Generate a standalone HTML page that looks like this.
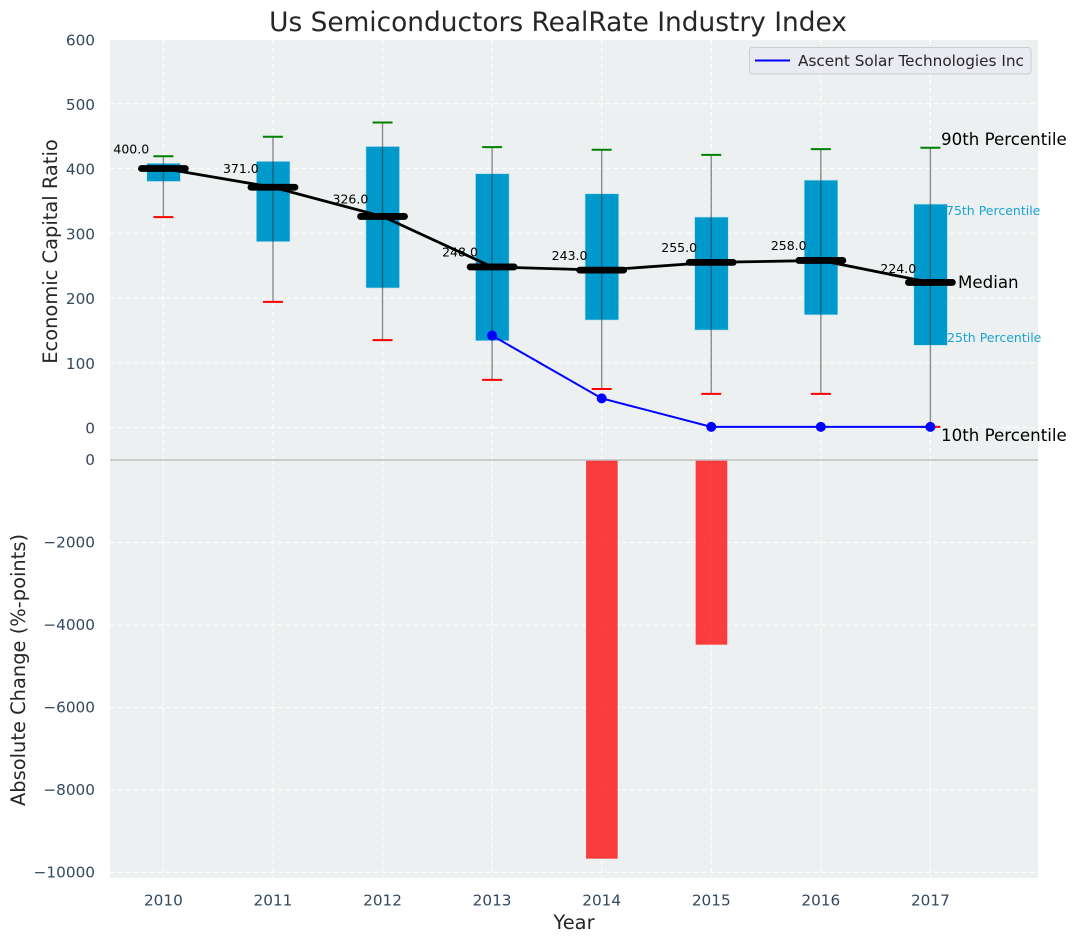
<!DOCTYPE html>
<html>
<head>
<meta charset="utf-8">
<title>Us Semiconductors RealRate Industry Index</title>
<style>
html,body{margin:0;padding:0;background:#fff;}
svg{display:block;font-family:"DejaVu Sans","Liberation Sans",sans-serif;}
</style>
</head>
<body>
<svg id="chart" width="1076" height="942" viewBox="0 0 1076 942" xmlns="http://www.w3.org/2000/svg">
  <rect x="110" y="40" width="928" height="419" fill="#ecf0f1"/>
  <rect x="110" y="460" width="928" height="418" fill="#ecf0f1"/>
  <g id="grid"></g>
  <g id="marks"></g>
  <line x1="110" x2="1038" y1="460" y2="460" stroke="#bdbdbd" stroke-width="1.5"/>
  <g id="ticks"></g>
  <text x="558" y="31" font-size="26.4" fill="#262626" text-anchor="middle">Us Semiconductors RealRate Industry Index</text>
  <text x="574" y="929" font-size="19.44" fill="#262626" text-anchor="middle">Year</text>
  <text transform="translate(57,251.5) rotate(-90)" font-size="19.44" fill="#262626" text-anchor="middle">Economic Capital Ratio</text>
  <text transform="translate(25,670) rotate(-90)" font-size="19.44" fill="#262626" text-anchor="middle">Absolute Change (%-points)</text>
  <text x="941" y="145" font-size="16.67" fill="#000">90th Percentile</text>
  <text x="958" y="288" font-size="16.67" fill="#000">Median</text>
  <text x="941" y="441" font-size="16.67" fill="#000">10th Percentile</text>
  <text x="946" y="215" font-size="12.5" fill="#1ba3d3">75th Percentile</text>
  <text x="947" y="342" font-size="12.5" fill="#1ba3d3">25th Percentile</text>
  <g>
    <rect x="749.5" y="47.5" width="281.5" height="26.5" rx="3" fill="#eaeaf2" fill-opacity="0.9" stroke="#cccccc"/>
    <line x1="755" x2="790" y1="60.5" y2="60.5" stroke="#0000ff" stroke-width="2"/>
    <text x="798" y="66" font-size="15.28" fill="#262626">Ascent Solar Technologies Inc</text>
  </g>
</svg>
<script>
const years = [2010, 2011, 2012, 2013, 2014, 2015, 2016, 2017];
const p90 = [419, 449, 471, 433, 429, 421, 430, 432];
const p75 = [408, 411, 434, 392, 361, 325, 382, 345];
const medians = [400, 371, 326, 248, 243, 255, 258, 224];
const p25 = [380, 287, 215.5, 134, 166, 150.5, 174, 127];
const p10 = [325, 194, 135, 73.5, 59.5, 52, 52, 1];
const companyYears = [2013, 2014, 2015, 2016, 2017];
const companyValues = [142, 45, 1, 1, 1];
const changeYears = [2014, 2015];
const changeValues = [-9665, -4477];
const topTicks = [0, 100, 200, 300, 400, 500, 600];
const bottomTicks = [0, -2000, -4000, -6000, -8000, -10000];

const NS = 'http://www.w3.org/2000/svg';
const xPos = v => 163.4 + (v - 2010) * 109.57;
const yTop = v => 427.5 - v * 0.6475;
const yBottom = v => 460 + (-v) * 0.04125;

function make(parent, tag, attrs, text) {
  const el = document.createElementNS(NS, tag);
  for (const k in attrs) el.setAttribute(k, attrs[k]);
  if (text !== undefined) el.textContent = text;
  parent.appendChild(el);
  return el;
}
const grid = document.getElementById('grid');
const marks = document.getElementById('marks');
const ticks = document.getElementById('ticks');
const gridStyle = {stroke: '#ffffff', 'stroke-width': 1.2, 'stroke-dasharray': '5 3', 'stroke-opacity': 0.85};

years.forEach(yr => {
  const x = xPos(yr);
  const g1 = make(grid, 'line', Object.assign({x1: x, x2: x, y1: 40, y2: 459}, gridStyle));
  
  
  const g2 = make(grid, 'line', Object.assign({x1: x, x2: x, y1: 460, y2: 878}, gridStyle));
  
  
  const t = make(ticks, 'text', {x: x, y: 905.5, 'font-size': 15.28, fill: '#34495e', 'text-anchor': 'middle'}, String(yr));
  
  
});
topTicks.forEach(v => {
  const y = yTop(v);
  if (v < 600) {
    const g = make(grid, 'line', Object.assign({x1: 110, x2: 1038, y1: y, y2: y}, gridStyle));
    
    
  }
  const t = make(ticks, 'text', {x: 95, y: Math.max(y + 6.2, 45.5), 'font-size': 15.28, fill: '#34495e', 'text-anchor': 'end'}, String(v));
  
  
});
bottomTicks.forEach(v => {
  const y = yBottom(v);
  if (v < 0) {
    const g = make(grid, 'line', Object.assign({x1: 110, x2: 1038, y1: y, y2: y}, gridStyle));
    
    
  }
  const label = v < 0 ? '\u2212' + Math.abs(v) : String(v);
  const t = make(ticks, 'text', {x: 95, y: y + 5.2, 'font-size': 15.28, fill: '#34495e', 'text-anchor': 'end'}, label);
  
  
});

changeYears.forEach((yr, i) => {
  const x = xPos(yr);
  const bar = make(marks, 'rect', {x: x - 15.6, y: yBottom(0), width: 31.6, height: yBottom(changeValues[i]) - yBottom(0), fill: '#ff0000', 'fill-opacity': 0.75});
  
  
});

years.forEach((yr, i) => {
  const x = xPos(yr);
  const box = make(marks, 'rect', {x: x - 16.6, y: yTop(p75[i]), width: 33.6, height: yTop(p25[i]) - yTop(p75[i]), fill: '#0099cc', stroke: '#b5dfee', 'stroke-width': 0.6});
  
  
  const w = make(marks, 'line', {x1: x, x2: x, y1: yTop(p90[i]), y2: yTop(p10[i]), stroke: '#333333', 'stroke-opacity': 0.55, 'stroke-width': 1.4});
  
  
  const hi = make(marks, 'line', {x1: x - 10, x2: x + 10, y1: yTop(p90[i]), y2: yTop(p90[i]), stroke: '#008000', 'stroke-width': 2});
  
  
  const lo = make(marks, 'line', {x1: x - 10, x2: x + 10, y1: yTop(p10[i]), y2: yTop(p10[i]), stroke: '#ff0000', 'stroke-width': 2});
  
  
});

const medianLine = make(marks, 'polyline', {points: years.map((yr, i) => xPos(yr) + ',' + yTop(medians[i])).join(' '), fill: 'none', stroke: '#000', 'stroke-width': 2.8});



years.forEach((yr, i) => {
  const x = xPos(yr);
  const m = make(marks, 'line', {x1: x - 22, x2: x + 22, y1: yTop(medians[i]), y2: yTop(medians[i]), stroke: '#000', 'stroke-width': 6.8, 'stroke-linecap': 'round'});
  
  
  const t = make(marks, 'text', {x: x - 50, y: yTop(medians[i] * 1.05 + 10.5) + 4.5, 'font-size': 12.5, fill: '#000'}, medians[i].toFixed(1));
  
  
});

const companyLine = make(marks, 'polyline', {points: companyYears.map((yr, i) => xPos(yr) + ',' + yTop(companyValues[i])).join(' '), fill: 'none', stroke: '#0000ff', 'stroke-width': 2});


companyYears.forEach((yr, i) => {
  const c = make(marks, 'circle', {cx: xPos(yr), cy: yTop(companyValues[i]), r: 5, fill: '#0000ff'});
  
  
});
</script>
</body>
</html>
